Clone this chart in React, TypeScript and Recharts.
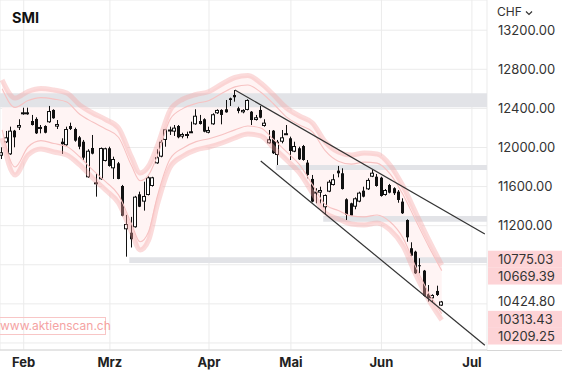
import {
  ComposedChart,
  Bar,
  Area,
  Line,
  XAxis,
  YAxis,
  CartesianGrid,
  ReferenceArea,
  ReferenceLine,
} from "recharts";

// trading days (SIX calendar 2022), day of month per month
const janDays = [25, 26, 27, 28, 31];
const febDays = [1, 2, 3, 4, 7, 8, 9, 10, 11, 14, 15, 16, 17, 18, 21, 22, 23, 24, 25, 28];
const marDays = [1, 2, 3, 4, 7, 8, 9, 10, 11, 14, 15, 16, 17, 18, 21, 22, 23, 24, 25, 28, 29, 30, 31];
const aprDays = [1, 4, 5, 6, 7, 8, 11, 12, 13, 14, 19, 20, 21, 22, 25, 26, 27, 28, 29];
const mayDays = [2, 3, 4, 5, 6, 9, 10, 11, 12, 13, 16, 17, 18, 19, 20, 23, 24, 25, 27, 30, 31];
const junDays = [1, 2, 3, 7, 8, 9, 10, 13, 14, 15, 16, 17, 20, 21, 22, 23, 24, 27, 28, 29, 30];
const julDays = [1, 4, 5, 6];

const monthDays: [string, number[]][] = [
  ["01", janDays], ["02", febDays], ["03", marDays], ["04", aprDays],
  ["05", mayDays], ["06", junDays], ["07", julDays],
];
const days = monthDays.flatMap(([m, ds]) => ds.map((d) => `${m}-${String(d).padStart(2, "0")}`));

const monthTicks = ["02-01", "03-01", "04-01", "05-02", "06-01", "07-01"];
const monthNames: Record<string, string> = { "02": "Feb", "03": "Mrz", "04": "Apr", "05": "Mai", "06": "Jun", "07": "Jul" };

const open = [
  11916, 12053, 11930, 12172, 12203, 12340, 12340, 12271, 12292, 12196, 12220, 12258, 12384, 12213, 12059, 12023,
  12220, 12189, 12104, 12059, 11695, 11995, 11634, 11675, 11862, 11992, 11787, 11838, 11606, 11163, 11128, 11184,
  11521, 11446, 11514, 11606, 11838, 11906, 12077, 12176, 12162, 12220, 12111, 12118, 12160, 12237, 12271, 12289,
  12151, 12237, 12350, 12384, 12391, 12503, 12537, 12401, 12360, 12384, 12366, 12281, 12384, 12220, 12043, 12172,
  11923, 12059, 12140, 12094, 11957, 11992, 12015, 11845, 11678, 11532, 11538, 11388, 11548, 11616, 11763, 11736,
  11470, 11429, 11394, 11446, 11558, 11572, 11701, 11701, 11691, 11514, 11616, 11583, 11548, 11446, 11258, 10969,
  10934, 10795, 10740, 10498, 10457, 10532, 10382,
];
const high = [
  12002, 12169, 12213, 12180, 12289, 12407, 12407, 12333, 12309, 12230, 12227, 12425, 12391, 12281, 12094, 12213,
  12254, 12203, 12118, 12077, 11982, 12128, 11739, 12000, 11998, 12008, 11906, 11852, 11617, 11310, 11290, 11505,
  11548, 11650, 11705, 11700, 11982, 12077, 12190, 12213, 12230, 12230, 12151, 12162, 12264, 12391, 12333, 12299,
  12213, 12350, 12391, 12391, 12486, 12510, 12588, 12417, 12391, 12493, 12373, 12333, 12425, 12289, 12179, 12179,
  12077, 12179, 12230, 12111, 12059, 12008, 12026, 11872, 11719, 11583, 11599, 11520, 11668, 11726, 11811, 11787,
  11480, 11435, 11490, 11548, 11599, 11685, 11770, 11729, 11701, 11575, 11627, 11593, 11565, 11480, 11265, 11030,
  10944, 10867, 10747, 10593, 10498, 10586, 10430,
];
const low = [
  11882, 12045, 11925, 12002, 12179, 12335, 12335, 12225, 12138, 12145, 12145, 12252, 12294, 12189, 11934, 12018,
  12179, 12059, 11982, 11872, 11690, 11930, 11497, 11670, 11857, 11804, 11678, 11675, 11296, 10883, 10977, 11180,
  11390, 11354, 11510, 11600, 11833, 11900, 12008, 12128, 12118, 12094, 12094, 12094, 12151, 12232, 12235, 12156,
  12145, 12232, 12343, 12237, 12356, 12425, 12469, 12350, 12350, 12380, 12230, 12276, 12299, 12213, 12040, 11934,
  11821, 12043, 12128, 11872, 11952, 11872, 11865, 11685, 11439, 11429, 11429, 11310, 11543, 11611, 11695, 11570,
  11258, 11299, 11368, 11440, 11490, 11565, 11697, 11599, 11497, 11507, 11531, 11514, 11435, 11320, 11036, 10883,
  10706, 10713, 10474, 10423, 10416, 10481, 10379,
];
const close = [
  11951, 12104, 12172, 12104, 12230, 12360, 12360, 12230, 12145, 12210, 12151, 12373, 12299, 12240, 12033, 12189,
  12189, 12070, 12008, 11896, 11967, 11937, 11644, 11995, 11992, 11811, 11882, 11678, 11302, 11217, 11061, 11497,
  11394, 11504, 11695, 11695, 11900, 12059, 12186, 12184, 12203, 12104, 12138, 12138, 12166, 12325, 12240, 12162,
  12179, 12340, 12384, 12333, 12360, 12486, 12514, 12373, 12384, 12486, 12281, 12309, 12305, 12254, 12084, 11941,
  12059, 12104, 12146, 11964, 12015, 11879, 11872, 11719, 11446, 11548, 11565, 11514, 11650, 11675, 11736, 11575,
  11310, 11302, 11480, 11538, 11497, 11668, 11742, 11606, 11504, 11565, 11538, 11532, 11463, 11327, 11081, 10893,
  10713, 10788, 10481, 10457, 10491, 10491, 10424.8,
];

// envelope read at every few sessions
const bandAt = [0, 3, 6, 9, 12, 15, 18, 21, 24, 27, 30, 32, 34, 36, 39, 42, 45, 48, 51, 54, 57, 60, 63, 66, 69, 72, 75, 78, 81, 84, 87, 90, 93, 96, 99, 102];
const upperOuter = [12691, 12506, 12573, 12604, 12588, 12558, 12435, 12353, 12286, 12200, 11903, 11739, 11811, 12015, 12384, 12496, 12542, 12573, 12650, 12716, 12737, 12660, 12537, 12404, 12322, 12251, 12056, 11954, 11923, 11944, 11933, 11821, 11606, 11330, 11054, 10798];
const upperInner = [12600, 12410, 12480, 12510, 12495, 12465, 12340, 12260, 12190, 12105, 11815, 11660, 11720, 11915, 12290, 12400, 12450, 12480, 12555, 12620, 12640, 12565, 12445, 12310, 12230, 12160, 11965, 11860, 11830, 11850, 11840, 11730, 11520, 11250, 10985, 10740];
const lowerInner = [12180, 11800, 12005, 12070, 12040, 12010, 11905, 11770, 11650, 11515, 11220, 11035, 11140, 11500, 11885, 11995, 12060, 12090, 12130, 12180, 12220, 12200, 12080, 11955, 11825, 11620, 11415, 11355, 11300, 11290, 11310, 11240, 11075, 10775, 10510, 10300];
const lowerOuter = [12097, 11719, 11923, 11985, 11954, 11923, 11821, 11688, 11565, 11432, 11136, 10952, 11054, 11412, 11801, 11913, 11975, 12005, 12046, 12097, 12138, 12118, 11995, 11872, 11739, 11535, 11330, 11269, 11217, 11207, 11228, 11156, 10992, 10696, 10440, 10235];

// grey zones
const zoneLow = [12411, 11770, 11241, 10819];
const zoneHigh = [12555, 11821, 11299, 10877];
const zoneFrom = [undefined, "04-27", "05-12", "03-08"];

// trend channel
const upperTrend = [{ x: "04-11", y: 12588 }, { x: "07-06", y: 11115 }];
const lowerTrend = [{ x: "04-21", y: 11862 }, { x: "07-06", y: 9976 }];

const yTicks = [10000, 10400, 10800, 11200, 11600, 12000, 12400, 12800, 13200];
const hiddenTicks = [10000, 10400, 10800];

const priceLabels = [10775.03, 10669.39, 10424.8, 10313.43, 10209.25];
const priceMarked = [true, true, false, true, true];
const priceShift = [-8, -1.5, 0, 7, 13.5];

const rows = days.map((d, i) => {
  const b = bandAt.indexOf(i);
  return {
    d,
    o: open[i],
    h: high[i],
    l: low[i],
    c: close[i],
    uo: b >= 0 ? upperOuter[b] : undefined,
    ui: b >= 0 ? upperInner[b] : undefined,
    li: b >= 0 ? lowerInner[b] : undefined,
    lo: b >= 0 ? lowerOuter[b] : undefined,
  };
});

const Candle = (props: any) => {
  const { x, y, width, height, payload } = props;
  if (!payload || payload.o == null) return null;
  const { o, h, l, c } = payload;
  const k = h - l > 0 ? height / (h - l) : 0;
  const py = (v: number) => y + (h - v) * k;
  const c0 = Math.round(x + width / 2 - 0.5);
  const top = py(Math.max(o, c));
  const bh = Math.max(py(Math.min(o, c)) - top, 1);
  return (
    <g>
      <rect x={c0} y={y} width={1} height={Math.max(height, 1)} fill="#111" />
      {c >= o ? (
        <g>
          <rect x={c0 - 2} y={top} width={4} height={Math.max(bh, 2)} fill="#111" />
          {bh > 2 && <rect x={c0 - 1} y={top + 1} width={2} height={bh - 2} fill="#fff" />}
        </g>
      ) : (
        <rect x={c0 - 1} y={top} width={3} height={bh} fill="#111" />
      )}
    </g>
  );
};

const YTick = (props: any) => {
  const { y, payload } = props;
  if (hiddenTicks.includes(payload.value)) return null;
  return (
    <text x={498} y={y} dy={4.5} fontSize={13} fill="#333" textAnchor="start">
      {payload.value.toFixed(2)}
    </text>
  );
};

const PriceLabel = (props: any) => {
  const { viewBox, idx } = props;
  const yy = viewBox.y + priceShift[idx];
  const x0 = viewBox.x + viewBox.width;
  return (
    <g>
      <rect x={x0 + 1} y={yy - 8.5} width={75} height={17} fill={priceMarked[idx] ? "#fdd3d6" : "#fff"} />
      <text x={498} y={yy} dy={4.5} fontSize={13} fill="#333">
        {priceLabels[idx].toFixed(2)}
      </text>
    </g>
  );
};

export default function App() {
  return (
    <div
      style={{
        position: "absolute",
        left: 0,
        top: 0,
        width: 562,
        height: 377,
        background: "#fff",
        fontFamily: "Inter, 'Noto Sans', sans-serif",
        overflow: "hidden",
      }}
    >
      <ComposedChart width={562} height={377} data={rows} margin={{ top: 0, right: 0, bottom: 0, left: 0 }}>
        <CartesianGrid stroke="#ebebeb" />
        <Area
          type="monotone"
          dataKey={(r: any) => (r.uo != null ? [r.lo, r.uo] : undefined)}
          connectNulls
          stroke="none"
          fill="#fff4f4"
          fillOpacity={1}
          dot={false}
          activeDot={false}
          isAnimationActive={false}
        />
        {zoneLow.map((lo, i) => (
          <ReferenceArea
            key={i}
            x1={zoneFrom[i]}
            y1={lo}
            y2={zoneHigh[i]}
            fill="#e2e3e7"
            fillOpacity={1}
            stroke="none"
            ifOverflow="visible"
          />
        ))}
        <XAxis
          dataKey="d"
          ticks={monthTicks}
          interval={0}
          tickLine={false}
          height={27}
          axisLine={{ stroke: "#d6d6d6" }}
          tickFormatter={(v: string) => monthNames[v.slice(0, 2)]}
          tick={{ fontSize: 13, fontWeight: 700, fill: "#222" }}
        />
        <YAxis
          orientation="right"
          type="number"
          domain={[9928, 13509]}
          allowDataOverflow
          ticks={yTicks}
          interval={0}
          width={75}
          axisLine={false}
          tickLine={false}
          tick={<YTick />}
        />
        <Line type="monotone" dataKey="uo" connectNulls dot={false} activeDot={false} stroke="#f4a4a4" strokeOpacity={0.4} strokeWidth={5} isAnimationActive={false} />
        <Line type="monotone" dataKey="lo" connectNulls dot={false} activeDot={false} stroke="#f4a4a4" strokeOpacity={0.4} strokeWidth={5} isAnimationActive={false} />
        <Line type="monotone" dataKey="ui" connectNulls dot={false} activeDot={false} stroke="#f7c2c2" strokeWidth={1.1} isAnimationActive={false} />
        <Line type="monotone" dataKey="li" connectNulls dot={false} activeDot={false} stroke="#f7c2c2" strokeWidth={1.1} isAnimationActive={false} />
        <Bar
          dataKey={(r: any) => (r.o != null ? [r.l, r.h] : undefined)}
          shape={<Candle />}
          isAnimationActive={false}
        />
        <ReferenceLine segment={upperTrend} stroke="#333" strokeWidth={1.2} ifOverflow="visible" />
        <ReferenceLine segment={lowerTrend} stroke="#333" strokeWidth={1.2} ifOverflow="visible" />
        {priceLabels.map((v, i) => (
          <ReferenceLine key={v} y={v} stroke="none" ifOverflow="visible" label={<PriceLabel idx={i} />} />
        ))}
      </ComposedChart>
      <div style={{ position: "absolute", left: 487, top: 350, width: 75, height: 1, background: "#d6d6d6" }} />
      <div style={{ position: "absolute", left: 12, top: 8, fontSize: 14.5, fontWeight: 700, color: "#111", lineHeight: "20px" }}>
        SMI
      </div>
      <div style={{ position: "absolute", left: 497, top: 4, fontSize: 12, color: "#333", lineHeight: "16px" }}>
        CHF
        <svg width={8} height={8} style={{ marginLeft: 3, verticalAlign: "middle" }}>
          <polyline points="1,2.5 4,5.5 7,2.5" fill="none" stroke="#333" strokeWidth={1.2} />
        </svg>
      </div>
      <div
        style={{
          position: "absolute",
          left: -1,
          top: 317,
          width: 105,
          height: 16,
          border: "1px solid #f8c6c6",
          color: "#f5a3a3",
          fontSize: 12,
          lineHeight: "16px",
          paddingLeft: 0,
          whiteSpace: "nowrap",
        }}
      >
        www.aktienscan.ch
      </div>
    </div>
  );
}
